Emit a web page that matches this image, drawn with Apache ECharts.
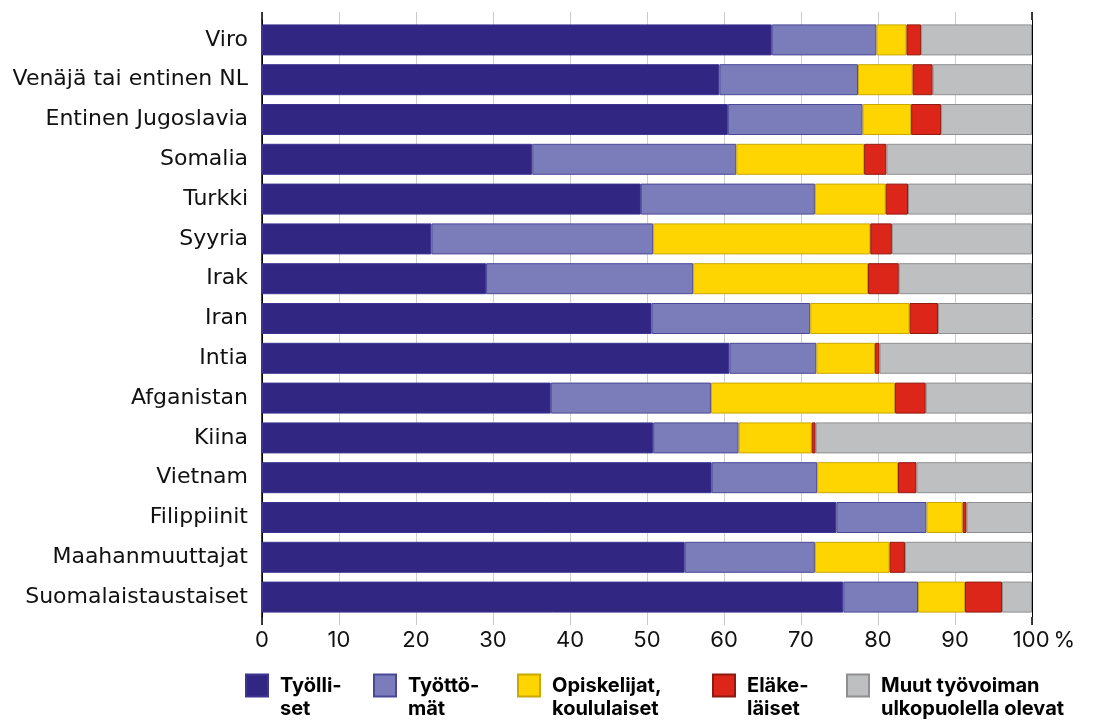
<!DOCTYPE html>
<html>
<head>
<meta charset="utf-8">
<script src="https://cdn.jsdelivr.net/npm/echarts@6/dist/echarts.min.js"></script>
<style>
  html, body { margin: 0; padding: 0; background: #fff; }
  #chart { width: 1093px; height: 724px; }
</style>
</head>
<body>
<div id="chart"></div>
<script>
const categories = ['Viro', 'Venäjä tai entinen NL', 'Entinen Jugoslavia', 'Somalia', 'Turkki', 'Syyria', 'Irak', 'Iran', 'Intia', 'Afganistan', 'Kiina', 'Vietnam', 'Filippiinit', 'Maahanmuuttajat', 'Suomalaistaustaiset'];
const tyolliset   = [66.2, 59.4, 60.5, 35.1, 49.2, 22.0, 29.1, 50.6, 60.7, 37.5, 50.8, 58.4, 74.6, 54.9, 75.5];
const tyottomat   = [13.6, 18.0, 17.5, 26.5, 22.6, 28.8, 26.9, 20.6, 11.3, 20.8, 11.1, 13.7, 11.7, 16.9, 9.7];
const opiskelijat = [3.9, 7.1, 6.3, 16.6, 9.2, 28.2, 22.7, 12.9, 7.6, 23.9, 9.5, 10.5, 4.7, 9.7, 6.1];
const elakelaiset = [1.9, 2.6, 3.9, 2.9, 2.9, 2.8, 4.0, 3.7, 0.6, 4.0, 0.5, 2.4, 0.5, 2.0, 4.8];
const muut        = [14.4, 12.9, 11.8, 18.9, 16.1, 18.2, 17.3, 12.2, 19.8, 13.8, 28.1, 15.0, 8.5, 16.5, 3.9];
const xTicks = [0, 10, 20, 30, 40, 50, 60, 70, 80, 90, 100];
const seriesNames = ['Työlli-\nset', 'Työttö-\nmät', 'Opiskelijat,\nkoululaiset', 'Eläke-\nläiset', 'Muut työvoiman\nulkopuolella olevat'];

const seriesData = [tyolliset, tyottomat, opiskelijat, elakelaiset, muut];
const fills   = ['#312783', '#7a7dba', '#ffd500', '#dc2619', '#bebfc1'];
const borders = ['#3d3591', '#4b4898', '#c9a800', '#8e1a10', '#8f8f91'];
const legendLeft = [245, 373, 517, 712, 846];

const chart = echarts.init(document.getElementById('chart'), null, { renderer: 'canvas' });

const splitColors = xTicks.map((v, i) => (i === 0 || i === xTicks.length - 1) ? '#000' : '#cfcfcf');

const option = {
  animation: false,
  backgroundColor: '#fff',
  grid: { left: 262, right: 61, top: 20, height: 597, containLabel: false },
  xAxis: [
    {
      type: 'value', position: 'bottom', min: 0, max: 100, interval: 10,
      axisLine: { show: false },
      axisTick: { show: true, length: 8, lineStyle: { color: '#c8c8c8', width: 1 } },
      splitLine: { show: true, lineStyle: { color: splitColors, width: 1 } },
      axisLabel: {
        margin: 12, fontSize: 22, color: '#111', fontFamily: 'Inter',
        formatter: v => v === 100 ? '{h|100\u2009%}' : String(v),
        rich: { h: { fontSize: 22, color: '#111', fontFamily: 'Inter', padding: [0, 0, 0, 24] } }
      }
    },
    {
      type: 'value', position: 'bottom', min: 0, max: 100, interval: 100,
      axisLine: { show: false }, splitLine: { show: false }, axisLabel: { show: false },
      axisTick: { show: true, length: 8, lineStyle: { color: '#000', width: 1.5 } }
    },
    {
      type: 'value', position: 'top', min: 0, max: 100, interval: 10,
      axisLine: { show: false }, splitLine: { show: false }, axisLabel: { show: false },
      axisTick: { show: true, length: 8, lineStyle: { color: '#c8c8c8', width: 1 } }
    },
    {
      type: 'value', position: 'top', min: 0, max: 100, interval: 100,
      axisLine: { show: false }, splitLine: { show: false }, axisLabel: { show: false },
      axisTick: { show: true, length: 8, lineStyle: { color: '#000', width: 1.5 } }
    }
  ],
  yAxis: {
    type: 'category', inverse: true, data: categories,
    axisLine: { show: true, lineStyle: { color: '#000', width: 1.5 } },
    axisTick: { show: false },
    axisLabel: { fontSize: 22, color: '#111', fontFamily: 'DejaVu Sans', margin: 14 }
  },
  legend: seriesNames.map((n, i) => ({
    data: [n], left: legendLeft[i], top: 651, padding: 0, orient: 'horizontal',
    icon: 'rect', itemWidth: 22, itemHeight: 22, selectedMode: false,
    formatter: name => '\u200b\n' + name,
    textStyle: { fontSize: 20, fontWeight: 'bold', color: '#000', fontFamily: 'Inter', lineHeight: 23, padding: [0, 0, 0, 7] }
  })),
  series: seriesNames.map((n, i) => ({
    name: n, type: 'bar', stack: 'total', xAxisIndex: 0,
    barWidth: 31, data: seriesData[i],
    itemStyle: { color: fills[i], borderColor: borders[i], borderWidth: 1 },
    emphasis: { disabled: true }
  }))
};
chart.setOption(option);
</script>
</body>
</html>
